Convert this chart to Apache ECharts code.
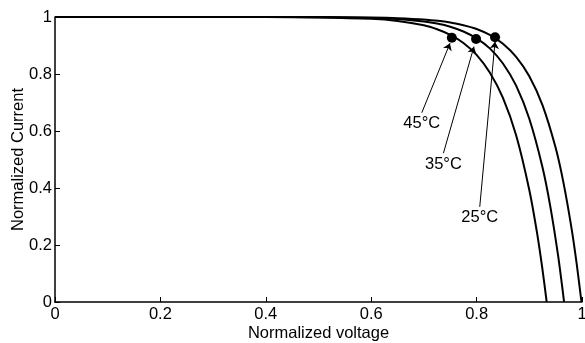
<!DOCTYPE html>
<html>
<head>
<meta charset="utf-8">
<script src="https://cdn.jsdelivr.net/npm/echarts@6/dist/echarts.min.js"></script>
<style>
  html, body { margin: 0; padding: 0; background: #fff; }
  #chart { width: 585px; height: 343px; }
</style>
</head>
<body>
<div id="chart"></div>
<script>
// I-V curves (normalized)
const volt45 = [0, 0.1, 0.2, 0.3, 0.4, 0.5, 0.6, 0.65, 0.7, 0.725, 0.75, 0.775, 0.8, 0.825, 0.85, 0.875, 0.9, 0.915, 0.925, 0.933];
const curr45 = [1, 1, 1, 1, 0.9997, 0.9986, 0.9936, 0.986, 0.971, 0.957, 0.9375, 0.909, 0.867, 0.805, 0.716, 0.585, 0.393, 0.239, 0.114, 0];

const volt35 = [0, 0.1, 0.2, 0.3, 0.4, 0.5, 0.6, 0.65, 0.7, 0.725, 0.75, 0.775, 0.8, 0.825, 0.85, 0.875, 0.9, 0.925, 0.94, 0.955, 0.966];
const curr35 = [1, 1, 1, 1, 1, 0.9993, 0.9967, 0.993, 0.984, 0.977, 0.966, 0.949, 0.925, 0.89, 0.837, 0.759, 0.643, 0.473, 0.334, 0.158, 0];

const volt25 = [0, 0.1, 0.2, 0.3, 0.4, 0.5, 0.6, 0.65, 0.7, 0.75, 0.775, 0.8, 0.825, 0.85, 0.875, 0.9, 0.925, 0.95, 0.965, 0.98, 0.99, 0.999];
const curr25 = [1, 1, 1, 1, 1, 0.9996, 0.998, 0.996, 0.991, 0.981, 0.971, 0.958, 0.937, 0.906, 0.86, 0.792, 0.691, 0.541, 0.417, 0.26, 0.133, 0];

// marked points and their labels
const temps = ['45°C', '35°C', '25°C'];
const dotX = [0.753, 0.799, 0.835];
const dotY = [0.927, 0.923, 0.929];
const labelX = [0.696, 0.737, 0.806];
const labelY = [0.627, 0.483, 0.295];
const arrowStartY = [0.664, 0.522, 0.334];
const arrowEndX = [0.7495, 0.795, 0.835];
const arrowEndY = [0.908, 0.896, 0.913];

const FONT = 'Liberation Sans, Arial, sans-serif';

function pairs(xs, ys) {
  return xs.map((x, i) => [x, ys[i]]);
}

function curve(name, xs, ys) {
  return {
    name: name,
    type: 'line',
    data: pairs(xs, ys),
    showSymbol: false,
    smooth: 0.25,
    lineStyle: { color: '#000', width: 2 },
    silent: true
  };
}

let myChart = echarts.init(document.getElementById('chart'));

let axisCommon = {
  type: 'value',
  min: 0,
  max: 1,
  interval: 0.2,
  nameLocation: 'middle',
  nameMoveOverlap: false,
  nameTextStyle: { fontFamily: FONT, fontSize: 16.5, color: '#000' },
  axisLine: { show: true, lineStyle: { color: '#000', width: 1.5 } },
  axisTick: { show: true, inside: true, length: 5, lineStyle: { color: '#000' } },
  splitLine: { show: false },
  axisLabel: { fontFamily: FONT, fontSize: 16.5, color: '#000' }
};

myChart.setOption({
  animation: false,
  backgroundColor: '#fff',
  grid: { left: 55, right: 3, top: 17, bottom: 41, containLabel: false, outerBoundsMode: 'none' },
  xAxis: Object.assign({}, axisCommon, {
    name: 'Normalized voltage',
    nameGap: 23,
    axisLabel: Object.assign({}, axisCommon.axisLabel, { margin: 4 })
  }),
  yAxis: Object.assign({}, axisCommon, {
    name: 'Normalized Current',
    nameGap: 28,
    axisLabel: Object.assign({}, axisCommon.axisLabel, { margin: 3 })
  }),
  series: [
    curve('25°C', volt25, curr25),
    curve('35°C', volt35, curr35),
    curve('45°C', volt45, curr45),
    {
      name: 'points',
      type: 'scatter',
      data: pairs(dotX, dotY),
      symbol: 'circle',
      symbolSize: 10,
      itemStyle: { color: '#000', opacity: 1 },
      silent: true
    },
    {
      name: 'labels',
      type: 'scatter',
      symbolSize: 0,
      itemStyle: { color: '#000', opacity: 1 },
      data: temps.map((t, i) => ({ name: t, value: [labelX[i], labelY[i]] })),
      label: {
        show: true,
        position: 'inside',
        formatter: '{b}',
        fontFamily: FONT,
        fontSize: 16.5,
        color: '#000',
        textBorderWidth: 0
      },
      silent: true,
      markLine: {
        silent: true,
        symbol: ['none', 'arrow'],
        symbolSize: 7,
        label: { show: false },
        lineStyle: { color: '#000', width: 1, type: 'solid', opacity: 1 },
        data: temps.map((t, i) => [
          { coord: [labelX[i], arrowStartY[i]] },
          { coord: [arrowEndX[i], arrowEndY[i]] }
        ])
      }
    }
  ]
});
</script>
</body>
</html>
